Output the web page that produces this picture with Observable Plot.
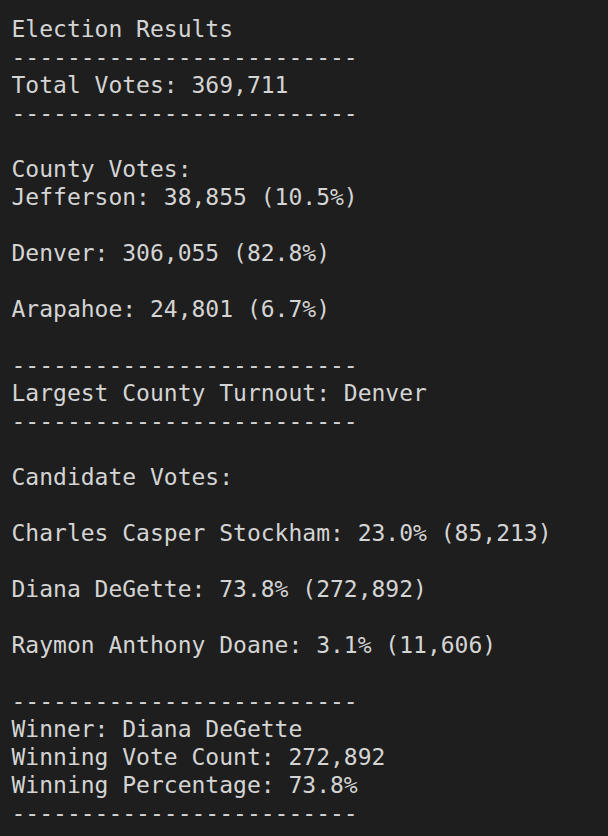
<!DOCTYPE html>
<html>
<head>
<meta charset="utf-8">
<script src="https://cdn.jsdelivr.net/npm/d3@7"></script>
<script src="https://cdn.jsdelivr.net/npm/@observablehq/plot@0.6"></script>
<style>
  html, body { margin: 0; padding: 0; background: #1e1e1e; }
  #chart svg { display: block; }
</style>
</head>
<body>
<div id="chart"></div>
<script>
const totalVotes = 369711
const counties = ['Jefferson', 'Denver', 'Arapahoe']
const countyVotes = [38855, 306055, 24801]
const countyPct = [10.5, 82.8, 6.7]
const largestCounty = 'Denver'
const candidates = ['Charles Casper Stockham', 'Diana DeGette', 'Raymon Anthony Doane']
const candidateVotes = [85213, 272892, 11606]
const candidatePct = [23.0, 73.8, 3.1]
const winner = 'Diana DeGette'
const winnerVotes = 272892
const winnerPct = 73.8

const fmt = d3.format(',')
const dash = '-'.repeat(25)

let lines = ['Election Results', dash, `Total Votes: ${fmt(totalVotes)}`, dash, '', 'County Votes:']
counties.forEach((c, i) => {
  lines.push(`${c}: ${fmt(countyVotes[i])} (${countyPct[i].toFixed(1)}%)`)
  lines.push('')
})
lines.push(dash, `Largest County Turnout: ${largestCounty}`, dash, '', 'Candidate Votes:', '')
candidates.forEach((c, i) => {
  lines.push(`${c}: ${candidatePct[i].toFixed(1)}% (${fmt(candidateVotes[i])})`)
  lines.push('')
})
lines.push(dash, `Winner: ${winner}`, `Winning Vote Count: ${fmt(winnerVotes)}`,
  `Winning Percentage: ${winnerPct.toFixed(1)}%`, dash)

const rows = lines.map((t, i) => ({t, i})).filter(d => d.t !== '')

let chart = Plot.plot({
  width: 608,
  height: 836,
  margin: 0,
  style: {background: '#1e1e1e'},
  x: {domain: [0, 1], range: [11, 600], axis: null},
  y: {domain: [0, 28], range: [29, 813], axis: null},
  marks: [
    Plot.text(rows, {
      x: () => 0,
      y: 'i',
      text: 't',
      textAnchor: 'start',
      fill: '#d4d4d4',
      fontSize: 23,
      fontFamily: 'DejaVu Sans Mono',
    }),
  ],
})
d3.select('#chart').append(() => chart)
</script>
</body>
</html>
